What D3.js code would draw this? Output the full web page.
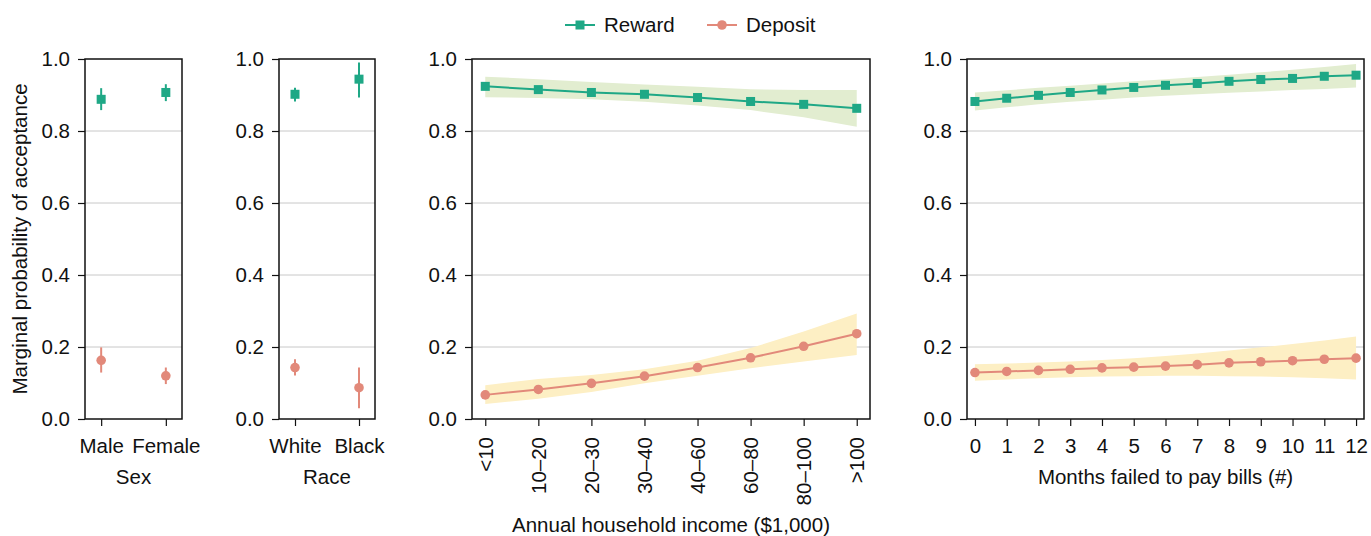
<!DOCTYPE html>
<html>
<head>
<meta charset="utf-8">
<script src="https://cdn.jsdelivr.net/npm/d3@7"></script>
<style>
  body { margin: 0; background: #fff; }
  svg { display: block; font-family: "Liberation Sans", Arial, Helvetica, sans-serif; }
</style>
</head>
<body>
<div id="chart"></div>
<script>
// ---- data ----
const sexCats = ["Male", "Female"];
const sexReward = [0.888, 0.907];
const sexRewardLo = [0.858, 0.883];
const sexRewardHi = [0.919, 0.930];
const sexDeposit = [0.163, 0.120];
const sexDepositLo = [0.129, 0.097];
const sexDepositHi = [0.199, 0.143];

const raceCats = ["White", "Black"];
const raceReward = [0.902, 0.944];
const raceRewardLo = [0.882, 0.893];
const raceRewardHi = [0.920, 0.990];
const raceDeposit = [0.143, 0.087];
const raceDepositLo = [0.121, 0.030];
const raceDepositHi = [0.166, 0.143];

const incomeCats = ["<10", "10\u201320", "20\u201330", "30\u201340", "40\u201360", "60\u201380", "80\u2013100", ">100"];
const incomeReward = [0.924, 0.915, 0.907, 0.902, 0.893, 0.882, 0.874, 0.863];
const incomeRewardLo = [0.894, 0.892, 0.888, 0.881, 0.871, 0.858, 0.838, 0.812];
const incomeRewardHi = [0.951, 0.944, 0.936, 0.929, 0.923, 0.916, 0.914, 0.914];
const incomeDeposit = [0.067, 0.082, 0.099, 0.119, 0.143, 0.170, 0.202, 0.237];
const incomeDepositLo = [0.042, 0.056, 0.075, 0.099, 0.120, 0.141, 0.160, 0.178];
const incomeDepositHi = [0.094, 0.111, 0.122, 0.138, 0.162, 0.197, 0.243, 0.293];

const monthCats = ["0", "1", "2", "3", "4", "5", "6", "7", "8", "9", "10", "11", "12"];
const monthReward = [0.882, 0.891, 0.899, 0.907, 0.914, 0.921, 0.927, 0.932, 0.938, 0.943, 0.946, 0.952, 0.955];
const monthRewardLo = [0.857, 0.866, 0.874, 0.881, 0.887, 0.893, 0.898, 0.902, 0.906, 0.910, 0.914, 0.917, 0.921];
const monthRewardHi = [0.907, 0.913, 0.920, 0.926, 0.932, 0.938, 0.944, 0.950, 0.956, 0.963, 0.970, 0.978, 0.986];
const monthDeposit = [0.129, 0.132, 0.135, 0.138, 0.142, 0.144, 0.147, 0.151, 0.156, 0.159, 0.162, 0.166, 0.169];
const monthDepositLo = [0.106, 0.110, 0.113, 0.116, 0.118, 0.119, 0.120, 0.120, 0.119, 0.118, 0.116, 0.113, 0.110];
const monthDepositHi = [0.152, 0.154, 0.157, 0.160, 0.164, 0.169, 0.175, 0.182, 0.190, 0.199, 0.208, 0.218, 0.229];

const yTicks = [0, 0.2, 0.4, 0.6, 0.8, 1.0];

// ---- styles ----
const green = "#1fa886";
const greenBand = "#e2edd0";
const salmon = "#e2897a";
const salmonBand = "#fdefc4";
const fs = 20.5;

const W = 1371, H = 536;
const plotTop = 59, plotBottom = 419;

const svg = d3.select("#chart").append("svg")
    .attr("width", W).attr("height", H);

const y = d3.scaleLinear().domain([0, 1]).range([plotBottom, plotTop]);

function rows(cats, v, lo, hi) {
    return cats.map((c, i) => ({ c, v: v[i], lo: lo[i], hi: hi[i] }));
}

function panel(opts) {
    const x = d3.scalePoint().domain(opts.cats).range([opts.x0, opts.x1]).padding(0.25);
    const g = svg.append("g");

    // grid
    g.append("g").selectAll("line")
        .data(yTicks.filter(t => t > 0 && t < 1))
        .join("line")
        .attr("x1", opts.x0).attr("x2", opts.x1)
        .attr("y1", d => y(d)).attr("y2", d => y(d))
        .attr("stroke", "#c8c8c8").attr("stroke-width", 1);

    const reward = rows(opts.cats, opts.reward, opts.rewardLo, opts.rewardHi);
    const deposit = rows(opts.cats, opts.deposit, opts.depositLo, opts.depositHi);

    if (opts.bands) {
        const area = d3.area().x(d => x(d.c)).y0(d => y(d.lo)).y1(d => y(d.hi));
        g.append("path").datum(reward).attr("d", area).attr("fill", greenBand);
        g.append("path").datum(deposit).attr("d", area).attr("fill", salmonBand);
        const line = d3.line().x(d => x(d.c)).y(d => y(d.v));
        g.append("path").datum(reward).attr("d", line)
            .attr("fill", "none").attr("stroke", green).attr("stroke-width", 2);
        g.append("path").datum(deposit).attr("d", line)
            .attr("fill", "none").attr("stroke", salmon).attr("stroke-width", 2);
    } else {
        [[reward, green], [deposit, salmon]].forEach(([data, col]) => {
            g.append("g").selectAll("line")
                .data(data).join("line")
                .attr("x1", d => x(d.c)).attr("x2", d => x(d.c))
                .attr("y1", d => y(d.lo)).attr("y2", d => y(d.hi))
                .attr("stroke", col).attr("stroke-width", 2);
        });
    }

    const sq = 9;
    g.append("g").selectAll("rect")
        .data(reward).join("rect")
        .attr("x", d => x(d.c) - sq / 2).attr("y", d => y(d.v) - sq / 2)
        .attr("width", sq).attr("height", sq)
        .attr("fill", green);
    g.append("g").selectAll("circle")
        .data(deposit).join("circle")
        .attr("cx", d => x(d.c)).attr("cy", d => y(d.v)).attr("r", 4.8)
        .attr("fill", salmon);

    // frame
    g.append("rect")
        .attr("x", opts.x0).attr("y", plotTop)
        .attr("width", opts.x1 - opts.x0).attr("height", plotBottom - plotTop)
        .attr("fill", "none").attr("stroke", "#111").attr("stroke-width", 1.5);

    // y axis
    const ya = g.append("g")
        .attr("transform", `translate(${opts.x0},0)`)
        .call(d3.axisLeft(y).tickValues(yTicks).tickFormat(d3.format(".1f")).tickSize(7).tickPadding(8));
    ya.select(".domain").remove();
    ya.selectAll("line").attr("stroke", "#111").attr("stroke-width", 1.2);
    ya.selectAll("text").attr("font-size", fs).attr("fill", "#111");

    // x axis
    const xa = g.append("g")
        .attr("transform", `translate(0,${plotBottom})`)
        .call(d3.axisBottom(x).tickSize(7).tickPadding(12));
    xa.select(".domain").remove();
    xa.selectAll("line").attr("stroke", "#111").attr("stroke-width", 1.2);
    xa.selectAll("text").attr("font-size", fs).attr("fill", "#111");
    if (opts.rotate) {
        xa.selectAll("text")
            .attr("transform", "rotate(-90)")
            .attr("text-anchor", "end")
            .attr("x", -18).attr("y", 0).attr("dy", "0.35em");
    }

    g.append("text")
        .attr("x", (opts.x0 + opts.x1) / 2).attr("y", opts.titleY)
        .attr("text-anchor", "middle").attr("font-size", fs).attr("fill", "#111")
        .text(opts.title);
}

panel({ cats: sexCats, x0: 85, x1: 182, reward: sexReward, rewardLo: sexRewardLo, rewardHi: sexRewardHi,
        deposit: sexDeposit, depositLo: sexDepositLo, depositHi: sexDepositHi,
        title: "Sex", titleY: 484 });
panel({ cats: raceCats, x0: 279, x1: 375, reward: raceReward, rewardLo: raceRewardLo, rewardHi: raceRewardHi,
        deposit: raceDeposit, depositLo: raceDepositLo, depositHi: raceDepositHi,
        title: "Race", titleY: 484 });
panel({ cats: incomeCats, x0: 472, x1: 870, bands: true, rotate: true,
        reward: incomeReward, rewardLo: incomeRewardLo, rewardHi: incomeRewardHi,
        deposit: incomeDeposit, depositLo: incomeDepositLo, depositHi: incomeDepositHi,
        title: "Annual household income ($1,000)", titleY: 532 });
panel({ cats: monthCats, x0: 967, x1: 1364, bands: true,
        reward: monthReward, rewardLo: monthRewardLo, rewardHi: monthRewardHi,
        deposit: monthDeposit, depositLo: monthDepositLo, depositHi: monthDepositHi,
        title: "Months failed to pay bills (#)", titleY: 484 });

// y title
svg.append("text")
    .attr("transform", `translate(27,${(plotTop + plotBottom) / 2}) rotate(-90)`)
    .attr("text-anchor", "middle").attr("font-size", fs).attr("fill", "#111")
    .text("Marginal probability of acceptance");

// legend
const legendItems = [
    { name: "Reward", color: green, shape: "square", x: 565 },
    { name: "Deposit", color: salmon, shape: "circle", x: 707 }
];
legendItems.forEach(it => {
    const lg = svg.append("g").attr("transform", `translate(${it.x},25)`);
    lg.append("line").attr("x1", 0).attr("x2", 30).attr("y1", 0).attr("y2", 0)
        .attr("stroke", it.color).attr("stroke-width", 2);
    if (it.shape === "square") {
        lg.append("rect").attr("x", 15 - 4.5).attr("y", -4.5).attr("width", 9).attr("height", 9).attr("fill", it.color);
    } else {
        lg.append("circle").attr("cx", 15).attr("cy", 0).attr("r", 4.8).attr("fill", it.color);
    }
    lg.append("text").attr("x", 39).attr("y", 0).attr("dy", "0.35em")
        .attr("font-size", fs).attr("fill", "#111").text(it.name);
});
</script>
</body>
</html>
